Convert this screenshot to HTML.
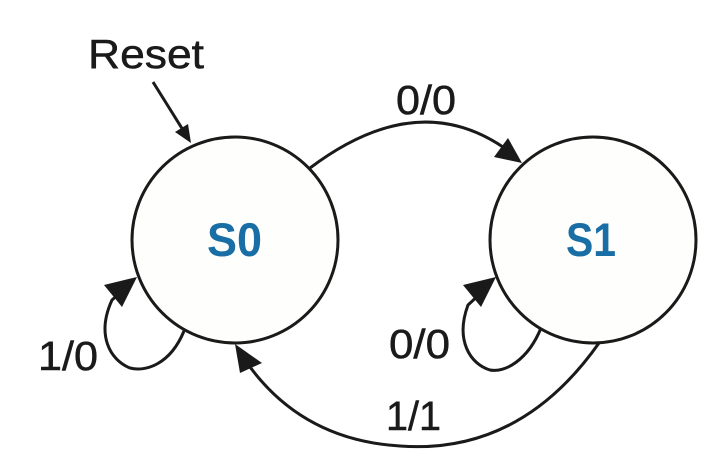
<!DOCTYPE html>
<html><head><style>body{margin:0;background:#fff}svg{display:block}</style></head>
<body>
<svg width="722" height="458" viewBox="0 0 722 458" xmlns="http://www.w3.org/2000/svg">
<g fill="none" stroke="#1a1a1a" stroke-width="3">
<circle cx="235" cy="240" r="103" fill="#fefefc"/>
<circle cx="593" cy="240" r="103" fill="#fefefc"/>
<line x1="153" y1="82" x2="183" y2="130"/>
<path d="M310,168 Q420,85 510,152"/>
<path d="M599,343 Q520,455 400,446 Q300,440 245,360"/>
<path d="M184,331 C170,365 145,372 130,368 C110,360 96,335 112,300 L125,288"/>
<path d="M541,328 C528,360 505,373 490,370 C470,364 455,340 468,305 L482,292"/>
</g>
<g fill="#1a1a1a">
<polygon points="191,143 175,132 188,124"/>
<polygon points="522,163 494,157 508,138"/>
<polygon points="235,344 262,363 240,373"/>
<polygon points="137,277 104,285 122,307"/>
<polygon points="496,277 463,285 481,307"/>
</g>
<g font-family="Liberation Sans, sans-serif" fill="#1a1a1a" font-size="41" stroke="#1a1a1a" stroke-width="0.5">
<text x="88" y="68" textLength="116" lengthAdjust="spacingAndGlyphs">Reset</text>
<text x="396" y="114" textLength="60" lengthAdjust="spacingAndGlyphs">0/0</text>
<text x="38" y="370" textLength="60" lengthAdjust="spacingAndGlyphs">1/0</text>
<text x="389" y="358" textLength="61" lengthAdjust="spacingAndGlyphs">0/0</text>
<text x="386" y="430" textLength="55" lengthAdjust="spacingAndGlyphs">1/1</text>
</g>
<g font-family="Liberation Sans, sans-serif" font-weight="bold" fill="#1a6ea6" font-size="47">
<text x="207" y="256" textLength="55" lengthAdjust="spacingAndGlyphs">S0</text>
<text x="566" y="256" textLength="50" lengthAdjust="spacingAndGlyphs">S1</text>
</g>
</svg>
</body></html>
